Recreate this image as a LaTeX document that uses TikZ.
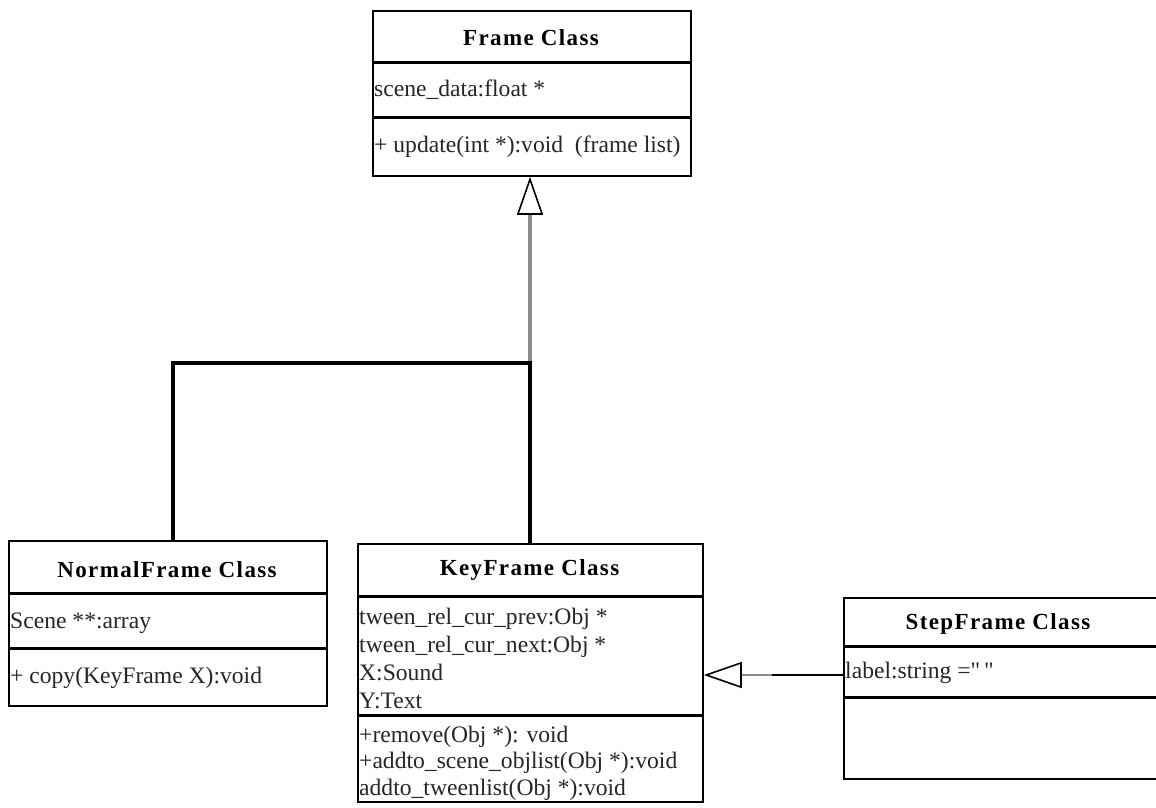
\documentclass[tikz,border=0pt]{standalone}
\usepackage{fontspec}
\setmainfont{Liberation Serif}
\newfontfamily\titlefont[LetterSpace=6]{Liberation Serif}
\newfontfamily\plainquotes[Ligatures=ResetAll]{Liberation Serif}
\usetikzlibrary{arrows.meta}
\begin{document}
\begin{tikzpicture}[x=1pt,y=-1pt,
  classbox/.style={draw=black, line width=1.8pt, fill=white, inner sep=0pt, anchor=north west},
  divider/.style={draw=black, line width=3pt},
  title/.style={font=\titlefont\fontsize{23}{27}\selectfont\bfseries, text=black, inner sep=0pt},
  member/.style={font=\rmfamily\fontsize{23.6}{27}\selectfont, text=black!85, inner sep=0pt, anchor=west, align=left},
  link/.style={draw=black, line width=3.6pt},
  greylink/.style={draw=black!45, line width=3.2pt},
  inherit/.style={-{Triangle[open, color=black, length=38pt, width=26pt, line width=1.6pt]}}
]
\useasboundingbox (0,0) rectangle (1156,807);

% Frame Class
\node[classbox, minimum width=318pt, minimum height=165pt] (frame) at (372,10) {};
\draw[divider] (372,62) -- (690,62);
\draw[divider] (372,117) -- (690,117);
\node[title] (frameT) at (531,38) {Frame Class};
\node[member] (frameA) at (374,90) {scene\_data:float *};
\node[member] (frameM) at (374,147) {+ update(int *):void\ \ (frame list)};

% NormalFrame Class
\node[classbox, minimum width=318pt, minimum height=165pt] (normal) at (8,540) {};
\draw[divider] (8,593) -- (326,593);
\draw[divider] (8,648) -- (326,648);
\node[title] (normalT) at (167,570) {NormalFrame Class};
\node[member] (normalA) at (10,623) {Scene **:array};
\node[member] (normalM) at (10,678) {+ copy(KeyFrame X):void};

% KeyFrame Class
\node[classbox, minimum width=345pt, minimum height=258pt] (key) at (357,543) {};
\draw[divider] (357,596) -- (702,596);
\draw[divider] (357,715) -- (702,715);
\node[title] (keyT) at (529.5,570) {KeyFrame Class};
\node[member, font=\rmfamily\fontsize{23.6}{28}\selectfont] (keyA) at (359,658) {tween\_rel\_cur\_prev:Obj *\\tween\_rel\_cur\_next:Obj *\\X:Sound\\Y:Text};
\node[member, font=\rmfamily\fontsize{23.6}{26.5}\selectfont] (keyM) at (359,763) {+remove(Obj *): void\\+addto\_scene\_objlist(Obj *):void\\addto\_tweenlist(Obj *):void};

% StepFrame Class
\node[classbox, minimum width=316pt, minimum height=181pt] (step) at (843,597) {};
\draw[divider] (843,646) -- (1159,646);
\draw[divider] (843,697) -- (1159,697);
\node[title] (stepT) at (998,624) {StepFrame Class};
\node[member] (stepA) at (845,673) {label:string ={\plainquotes"\,"}};

% Generalisation: NormalFrame and KeyFrame to Frame
\coordinate (jR) at (530,363);
\coordinate (jL) at (173,363);
\draw[greylink, inherit] (jR) -- (frame.south -| jR);
\draw[link] (normal.north -| jL) -- (jL) -- (jR) -- (key.north -| jR);

% Generalisation: StepFrame to KeyFrame
\coordinate (sj) at (772,675);
\draw[draw=black, line width=1.8pt] (step.west |- sj) -- (sj);
\draw[greylink, line width=2.4pt, inherit] (sj) -- (key.east |- sj);
\end{tikzpicture}
\end{document}
